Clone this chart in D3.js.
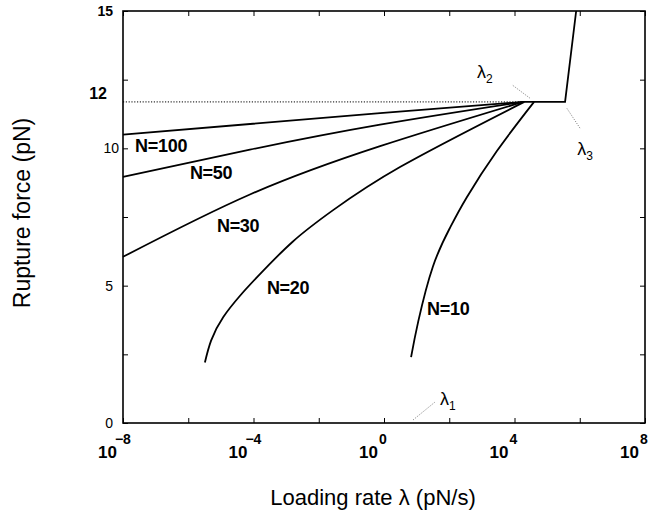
<!DOCTYPE html>
<html lang="en">
    <head>
        <meta charset="utf-8">
        <title>Rupture force vs loading rate</title>
        <script type="text/javascript" src="https://d3js.org/d3.v7.min.js"></script>
        <style type="text/css">
            body { margin: 0; background: #fff; }
            text { font-family: "Liberation Sans", Arial, sans-serif; fill: #000; }
            .frame { fill: none; stroke: #000; stroke-width: 1.6px; }
            .axis path { display: none; }
            .axis line { stroke: #000; stroke-width: 1px; }
            .curve { fill: none; stroke: #000; stroke-width: 1.8px; }
        </style>
    </head>
    <body>
    <script type="text/javascript">

            const width = 649;
            const height = 514;
            const plotLeft = 123, plotRight = 645, plotTop = 11, plotBottom = 423;

            // data: log10 of loading rate (pN/s) and rupture force (pN)
            const n100Exp   = [-8, -0.12, 4.26];
            const n100Force = [10.50, 11.28, 11.69];

            const n50Exp   = [-8, -4.11, -0.12, 4.26];
            const n50Force = [8.96, 9.95, 10.86, 11.69];

            const n30Exp   = [-8, -4.11, -0.12, 4.26];
            const n30Force = [6.05, 8.32, 10.08, 11.69];

            const n20Exp   = [-5.49, -5.30, -4.93, -4.40, -3.89, -2.80, -1.56, 0.49, 4.30];
            const n20Force = [2.20, 3.00, 3.85, 4.65, 5.31, 6.60, 7.75, 9.32, 11.69];

            const n10Exp   = [0.83, 1.05, 1.50, 2.02, 2.53, 3.46, 4.60];
            const n10Force = [2.40, 3.70, 5.70, 7.10, 8.20, 9.90, 11.69];

            // plateau and steep rise after lambda_3
            const limitExp   = [4.26, 5.55, 5.89];
            const limitForce = [11.69, 11.69, 15];

            const dottedExp   = [-8, 4.26];
            const dottedForce = [11.69, 11.69];

            const curveNames = ["N=100", "N=50", "N=30", "N=20", "N=10"];
            // label anchors (log rate, force)
            const labelExp   = [-7.63, -5.95, -5.12, -3.59, 1.32];
            const labelForce = [9.85, 8.87, 6.95, 4.69, 3.93];

            const xTickExp = [-8, -6, -4, -2, 0, 2, 4, 6, 8];
            const xLabelExp = [-8, -4, 0, 4, 8];
            const yTicks = [0, 2.5, 5, 7.5, 10, 12.5, 15];
            const yLabels = ["0", "5", "10", "15"];

            const xScale = d3.scaleLog().domain([1e-8, 1e8]).range([plotLeft, plotRight]);
            const yScale = d3.scaleLinear().domain([0, 15]).range([plotBottom, plotTop]);
            const px = e => xScale(Math.pow(10, e));

            const svg = d3.select("body")
                        .append("svg")
                        .attr("width", width)
                        .attr("height", height);

            const xTickVals = xTickExp.map(e => Math.pow(10, e));

            // inward ticks on all four sides
            svg.append("g")
                .attr("class", "axis")
                .attr("transform", "translate(0," + plotBottom + ")")
                .call(d3.axisBottom(xScale).tickValues(xTickVals).tickSize(-5).tickFormat(""));
            svg.append("g")
                .attr("class", "axis")
                .attr("transform", "translate(0," + plotTop + ")")
                .call(d3.axisTop(xScale).tickValues(xTickVals).tickSize(-5).tickFormat(""));
            svg.append("g")
                .attr("class", "axis")
                .attr("transform", "translate(" + plotLeft + ",0)")
                .call(d3.axisLeft(yScale).tickValues(yTicks).tickSize(-5).tickFormat(""));
            svg.append("g")
                .attr("class", "axis")
                .attr("transform", "translate(" + plotRight + ",0)")
                .call(d3.axisRight(yScale).tickValues(yTicks).tickSize(-5).tickFormat(""));

            svg.append("rect")
                .attr("class", "frame")
                .attr("x", plotLeft)
                .attr("y", plotTop)
                .attr("width", plotRight - plotLeft)
                .attr("height", plotBottom - plotTop);

            // y tick labels
            svg.selectAll(".ylab")
                .data(yLabels)
                .enter()
                .append("text")
                .attr("class", "ylab")
                .attr("x", d => d === "10" ? 119 : 113)
                .attr("y", d => yScale(+d) + 5)
                .attr("text-anchor", "end")
                .attr("font-size", "14px")
                .attr("font-weight", d => d === "15" ? "bold" : "normal")
                .text(d => d);

            svg.append("text")
                .attr("x", 107)
                .attr("y", yScale(12) + 6)
                .attr("text-anchor", "end")
                .attr("font-size", "16px")
                .attr("font-weight", "bold")
                .text("12");

            // x tick labels 10^n
            const xl = svg.selectAll(".xlab")
                .data(xLabelExp)
                .enter()
                .append("text")
                .attr("class", "xlab")
                .attr("x", d => px(d) - 25)
                .attr("y", 458)
                .attr("font-size", "17px")
                .attr("font-weight", "bold");
            xl.append("tspan").text("10");
            xl.append("tspan")
                .attr("dx", d => d < 0 ? -2 : 1)
                .attr("dy", -14)
                .attr("font-size", "14px")
                .text(d => d < 0 ? "\u2212" + (-d) : d);

            // dotted reference line
            const line = d3.line()
                .x(d => px(d[0]))
                .y(d => yScale(d[1]));

            svg.append("path")
                .datum(d3.zip(dottedExp, dottedForce))
                .attr("fill", "none")
                .attr("stroke", "#000")
                .attr("stroke-width", 1)
                .attr("stroke-dasharray", "1.2,1.6")
                .attr("d", line);

            const smooth = d3.line()
                .x(d => px(d[0]))
                .y(d => yScale(d[1]))
                .curve(d3.curveNatural);

            const series = [
                d3.zip(n100Exp, n100Force),
                d3.zip(n50Exp, n50Force),
                d3.zip(n30Exp, n30Force),
                d3.zip(n20Exp, n20Force),
                d3.zip(n10Exp, n10Force)
            ];

            svg.selectAll(".curve")
                .data(series)
                .enter()
                .append("path")
                .attr("class", "curve")
                .attr("d", smooth);

            svg.append("path")
                .datum(d3.zip(limitExp, limitForce))
                .attr("class", "curve")
                .attr("d", line);

            // N labels
            svg.selectAll(".nlab")
                .data(curveNames)
                .enter()
                .append("text")
                .attr("class", "nlab")
                .attr("x", (d, i) => px(labelExp[i]))
                .attr("y", (d, i) => yScale(labelForce[i]))
                .attr("font-size", "18px")
                .attr("font-weight", "bold")
                .attr("letter-spacing", "-0.3px")
                .text(d => d);

            // lambda annotations with dotted leaders
            const lamNames = ["1", "2", "3"];
            const lamExp   = [1.72, 2.85, 5.92];
            const lamForce = [0.84, 12.76, 9.93];
            const leadExp  = [[0.89, 1.56], [3.95, 4.48], [5.61, 6.01]];
            const leadForce = [[0.11, 0.76], [12.29, 11.82], [11.45, 10.73]];

            svg.selectAll(".lead")
                .data(lamNames)
                .enter()
                .append("line")
                .attr("x1", (d, i) => px(leadExp[i][0]))
                .attr("x2", (d, i) => px(leadExp[i][1]))
                .attr("y1", (d, i) => yScale(leadForce[i][0]))
                .attr("y2", (d, i) => yScale(leadForce[i][1]))
                .attr("stroke", "#777")
                .attr("stroke-width", 1)
                .attr("stroke-dasharray", "1,1.5");

            const lam = svg.selectAll(".lam")
                .data(lamNames)
                .enter()
                .append("text")
                .attr("class", "lam")
                .attr("x", (d, i) => px(lamExp[i]))
                .attr("y", (d, i) => yScale(lamForce[i]) + 5)
                .attr("font-size", "18px");
            lam.append("tspan").text("\u03bb");
            lam.append("tspan")
                .attr("dy", 5)
                .attr("font-size", "12px")
                .text(d => d);

            // axis titles
            svg.append("text")
                .attr("x", 373)
                .attr("y", 505)
                .attr("text-anchor", "middle")
                .attr("font-size", "22px")
                .text("Loading rate \u03bb (pN/s)");

            svg.append("text")
                .attr("transform", "translate(30," + 213 + ") rotate(-90)")
                .attr("text-anchor", "middle")
                .attr("font-size", "23px")
                .text("Rupture force (pN)");

    </script>
    </body>
</html>
